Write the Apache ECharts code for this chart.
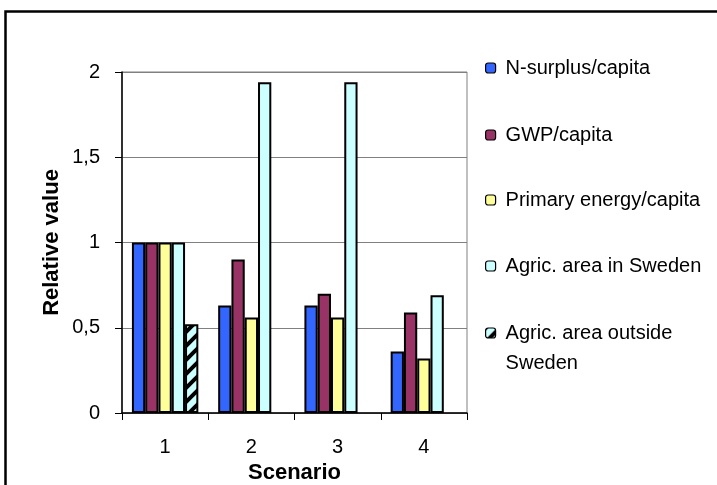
<!DOCTYPE html>
<html>
<head>
<meta charset="utf-8">
<style>
  html, body { margin: 0; padding: 0; background: #fff; }
  #chart { width: 717px; height: 485px; }
</style>
<script src="https://cdn.jsdelivr.net/npm/echarts@6/dist/echarts.min.js"></script>
</head>
<body>
<div id="chart"></div>
<script>
// Scenario categories and relative values per indicator
const scenarios = ['1', '2', '3', '4'];
const nSurplus = [1.0, 0.63, 0.63, 0.36];
const gwp = [1.0, 0.90, 0.70, 0.59];
const primaryEnergy = [1.0, 0.56, 0.56, 0.32];
const areaInSweden = [1.0, 1.94, 1.94, 0.69];
const areaOutsideSweden = [0.52, '-', '-', '-'];
const seriesNames = [
  'N-surplus/capita',
  'GWP/capita',
  'Primary energy/capita',
  'Agric. area in Sweden',
  'Agric. area outside Sweden'
];
const yTicks = [0, 0.5, 1, 1.5, 2];

const FONT = '"Liberation Sans", Arial, sans-serif';

// Hatch tile: light cyan with black upward diagonals
function hatchTile() {
  const s = 14;
  const c = document.createElement('canvas');
  c.width = s; c.height = s;
  const g = c.getContext('2d');
  g.fillStyle = '#CCFFFF';
  g.fillRect(0, 0, s, s);
  g.strokeStyle = '#000';
  g.lineWidth = 4;
  g.beginPath();
  for (let k = -1; k <= 1; k++) {
    g.moveTo(k * s - 2, s + 2);
    g.lineTo(k * s + s + 2, -2);
  }
  g.stroke();
  return c;
}

const colors = ['#3366FF', '#993366', '#FFFF99', '#CCFFFF', { image: hatchTile(), repeat: 'repeat' }];
const values = [nSurplus, gwp, primaryEnergy, areaInSweden, areaOutsideSweden];

const chart = echarts.init(document.getElementById('chart'), null, { renderer: 'canvas' });

const legendText = { fontFamily: FONT, fontSize: 20, color: '#000', lineHeight: 22, padding: [0, 0, 0, 5] };
const legendRows = [68, 135, 200, 266];
const legends = legendRows.map((cy, i) => ({
  data: [seriesNames[i]],
  left: 485,
  top: cy - 11,
  padding: 0,
  itemWidth: 10,
  itemHeight: 10,
  selectedMode: false,
  itemStyle: { borderColor: '#000', borderWidth: 1.2 },
  textStyle: legendText
}));
// Two-line entry: a blank leading line keeps the swatch beside the first line
legends.push({
  data: [seriesNames[4]],
  left: 485,
  top: 333 - 45,
  padding: 0,
  itemWidth: 10,
  itemHeight: 10,
  selectedMode: false,
  formatter: () => ' \nAgric. area outside\nSweden',
  itemStyle: { borderColor: '#000', borderWidth: 1.2 },
  textStyle: Object.assign({}, legendText, { lineHeight: 30 })
});

chart.setOption({
  animation: false,
  backgroundColor: '#fff',
  textStyle: { fontFamily: FONT },
  graphic: [{
    type: 'rect',
    shape: { x: 5.5, y: 11.5, width: 900, height: 700 },
    style: { fill: 'none', stroke: '#000', lineWidth: 2.5 },
    silent: true
  }],
  grid: {
    left: 122, top: 72, right: 250, bottom: 72,
    containLabel: false,
    outerBoundsMode: 'none',
    show: true, borderColor: '#808080', borderWidth: 1, backgroundColor: 'transparent'
  },
  legend: legends,
  xAxis: {
    type: 'category',
    data: scenarios,
    name: 'Scenario',
    nameLocation: 'middle',
    nameGap: 38,
    nameTextStyle: { fontFamily: FONT, fontSize: 22, fontWeight: 'bold', color: '#000' },
    axisLine: { show: true, lineStyle: { color: '#000', width: 1.5 } },
    axisTick: { show: true, length: 7, inside: false, lineStyle: { color: '#000' } },
    axisLabel: { fontFamily: FONT, fontSize: 20, color: '#000', margin: 24 },
    z: 10
  },
  yAxis: {
    type: 'value',
    min: yTicks[0],
    max: yTicks[yTicks.length - 1],
    interval: 0.5,
    name: 'Relative value',
    nameLocation: 'middle',
    nameGap: 59,
    nameTextStyle: { fontFamily: FONT, fontSize: 22, fontWeight: 'bold', color: '#000' },
    axisLine: { show: true, lineStyle: { color: '#000', width: 1.5 } },
    axisTick: { show: true, length: 7, inside: false, lineStyle: { color: '#000' } },
    axisLabel: {
      fontFamily: FONT, fontSize: 20, color: '#000', margin: 22,
      formatter: v => String(v).replace('.', ',')
    },
    splitLine: { show: true, lineStyle: { color: '#808080', width: 1 } }
  },
  series: values.map((vals, i) => ({
    name: seriesNames[i],
    type: 'bar',
    data: vals,
    barGap: 0,
    barCategoryGap: '23%',
    itemStyle: { color: colors[i], borderColor: '#000', borderWidth: 2 },
    emphasis: { disabled: true }
  }))
});
</script>
</body>
</html>
